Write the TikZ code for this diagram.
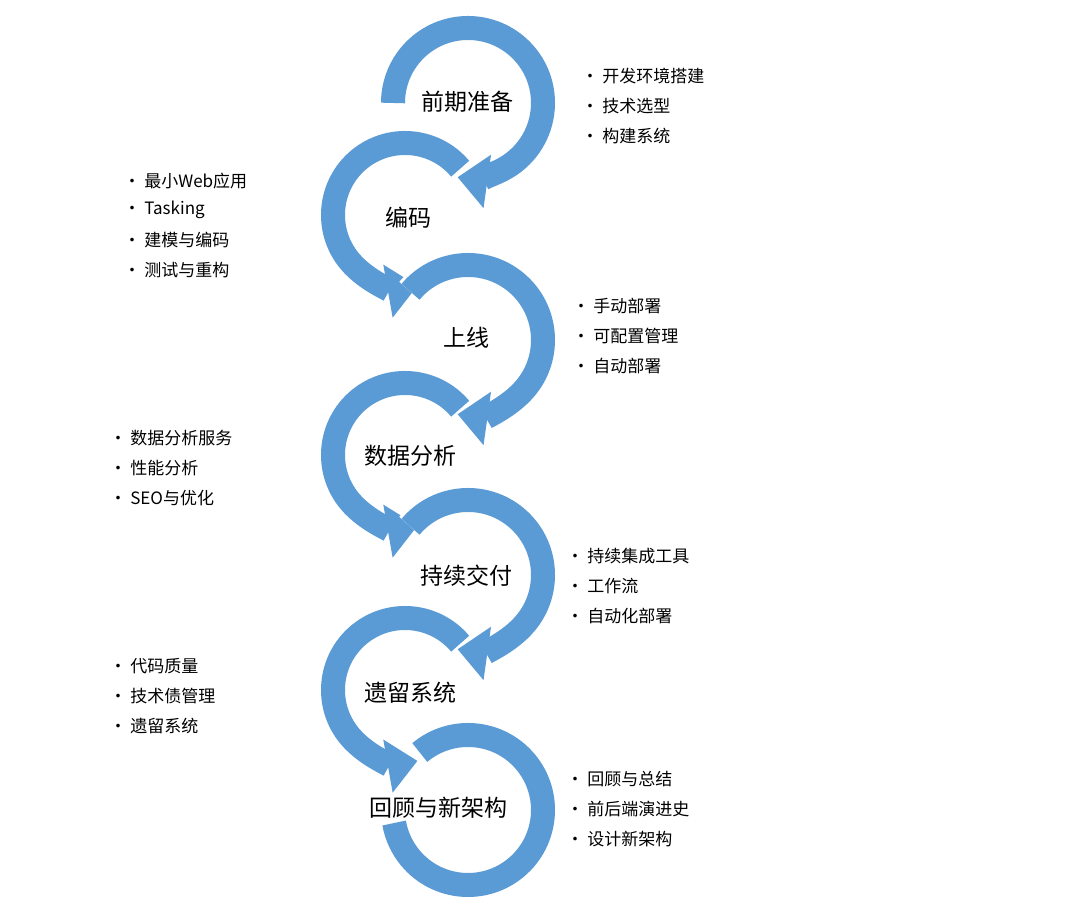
\documentclass[tikz,border=0pt]{standalone}
\usepackage{fontspec}
\setmainfont{Noto Sans CJK SC}
\usetikzlibrary{arrows.meta}
\definecolor{ab}{HTML}{5B9BD5}
\begin{document}
\begin{tikzpicture}[x=1pt,y=1pt,
  lab/.style={font=\fontsize{23}{26}\selectfont},
  itm/.style={anchor=west,font=\fontsize{17}{20}\selectfont},
  band/.style={line width=24pt,ab},
  gapband/.style={line width=30pt,white},
  tip/.style={-{Triangle[length=30pt,width=52pt]}}]
\useasboundingbox (0,0) rectangle (1080,901);
\fill[white] (0,0) rectangle (1080,901);
\coordinate (r1) at (468,798);
\coordinate (l1) at (405,686);
\coordinate (r2) at (468,561);
\coordinate (l2) at (405,446);
\coordinate (r3) at (468,326);
\coordinate (l3) at (405,211);
\coordinate (r4) at (468,91);
% right arcs
\foreach \c in {r1,l1,r2,l2,r3,l3}{}
\draw[band,tip] (r1) ++(180:75) arc[start angle=180,end angle=-98,radius=75];
\draw[gapband] (l1) ++(40:72) arc[start angle=40,end angle=270,radius=72];
\draw[band,tip] (l1) ++(40:72) arc[start angle=40,end angle=280,radius=72];
\draw[gapband] (r2) ++(140:75) arc[start angle=140,end angle=-80,radius=75];
\draw[band,tip] (r2) ++(140:75) arc[start angle=140,end angle=-98,radius=75];
\draw[gapband] (l2) ++(40:72) arc[start angle=40,end angle=270,radius=72];
\draw[band,tip] (l2) ++(40:72) arc[start angle=40,end angle=280,radius=72];
\draw[gapband] (r3) ++(140:75) arc[start angle=140,end angle=-80,radius=75];
\draw[band,tip] (r3) ++(140:75) arc[start angle=140,end angle=-98,radius=75];
\draw[gapband] (l3) ++(40:72) arc[start angle=40,end angle=270,radius=72];
\draw[band,tip] (l3) ++(40:72) arc[start angle=40,end angle=280,radius=72];
\draw[gapband] (r4) ++(130:75) arc[start angle=130,end angle=-170,radius=75];
\draw[band] (r4) ++(130:75) arc[start angle=130,end angle=-170,radius=75];
% labels
\node[lab] (t1) at (467,799) {前期准备};
\node[lab] (t2) at (408,683) {编码};
\node[lab] (t3) at (466,563) {上线};
\node[lab] (t4) at (410,445) {数据分析};
\node[lab] (t5) at (466,325) {持续交付};
\node[lab] (t6) at (410,208) {遗留系统};
\node[lab] (t7) at (438,93) {回顾与新架构};
% lists
\node[itm] (a1) at (578,825) {• 开发环境搭建};
\node[itm] (a2) at (578,795) {• 技术选型};
\node[itm] (a3) at (578,765) {• 构建系统};
\node[itm] (b1) at (120,720) {• 最小Web应用};
\node[itm] (b2) at (120,691) {• Tasking};
\node[itm] (b3) at (120,661) {• 建模与编码};
\node[itm] (b4) at (120,631) {• 测试与重构};
\node[itm] (c1) at (569,595) {• 手动部署};
\node[itm] (c2) at (569,565) {• 可配置管理};
\node[itm] (c3) at (569,535) {• 自动部署};
\node[itm] (d1) at (106,463) {• 数据分析服务};
\node[itm] (d2) at (106,433) {• 性能分析};
\node[itm] (d3) at (106,403) {• SEO与优化};
\node[itm] (e1) at (563,345) {• 持续集成工具};
\node[itm] (e2) at (563,315) {• 工作流};
\node[itm] (e3) at (563,285) {• 自动化部署};
\node[itm] (f1) at (106,235) {• 代码质量};
\node[itm] (f2) at (106,205) {• 技术债管理};
\node[itm] (f3) at (106,175) {• 遗留系统};
\node[itm] (g1) at (563,122) {• 回顾与总结};
\node[itm] (g2) at (563,92) {• 前后端演进史};
\node[itm] (g3) at (563,62) {• 设计新架构};
\end{tikzpicture}
\end{document}
